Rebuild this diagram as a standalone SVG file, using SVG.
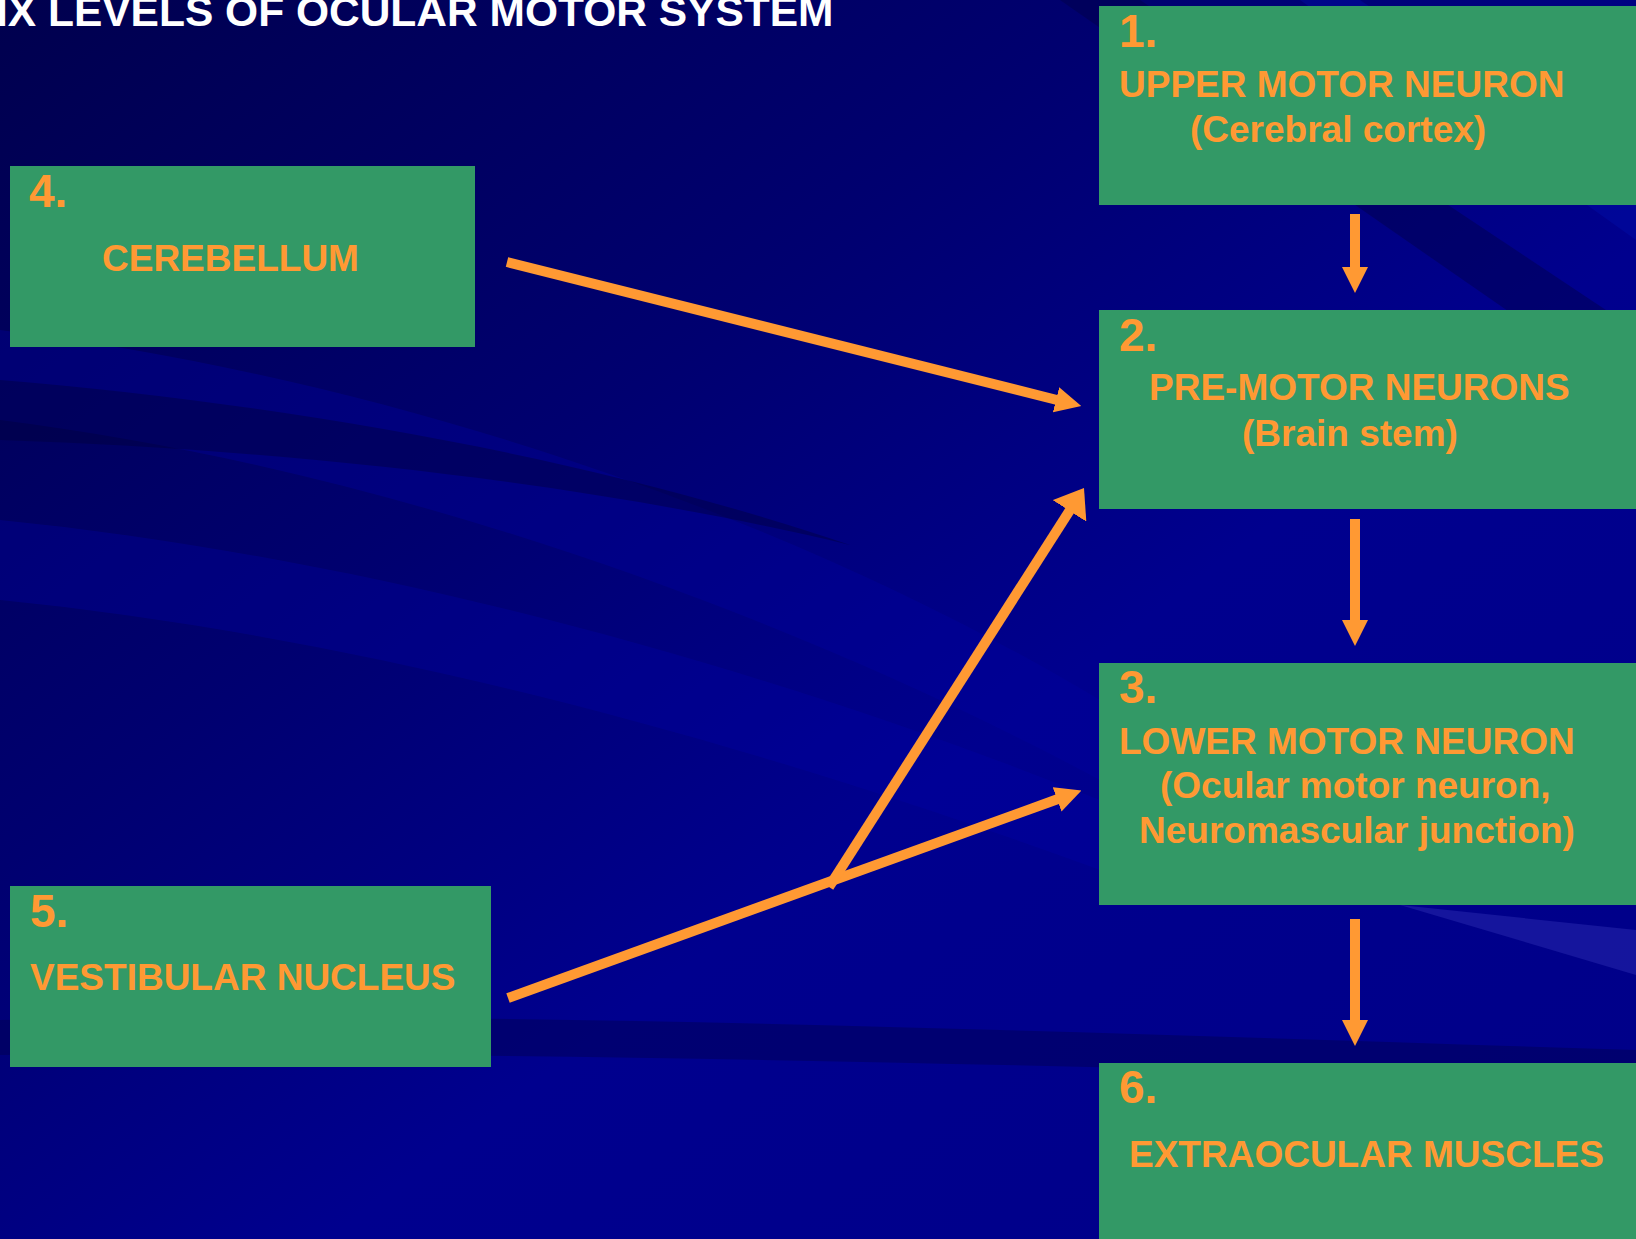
<svg xmlns="http://www.w3.org/2000/svg" width="1636" height="1239" viewBox="0 0 1636 1239">
  <defs>
    <linearGradient id="bg" x1="0" y1="0" x2="1" y2="1">
      <stop offset="0" stop-color="#00004e"/>
      <stop offset="0.35" stop-color="#000070"/>
      <stop offset="0.6" stop-color="#00008e"/>
      <stop offset="1" stop-color="#000088"/>
    </linearGradient>
    <marker id="head" viewBox="0 0 26 26" refX="1" refY="13" markerWidth="26" markerHeight="26" markerUnits="userSpaceOnUse" orient="auto">
      <path d="M0,0 L26,13 L0,26 Z" fill="#FF9933"/>
    </marker>
    <marker id="headWide" viewBox="0 0 27 40" refX="1" refY="20" markerWidth="27" markerHeight="40" markerUnits="userSpaceOnUse" orient="auto">
      <path d="M0,0 L27,20 L0,40 Z" fill="#FF9933"/>
    </marker>
    <style>
      .box { fill: #339966; }
      .num { font-family: "Liberation Sans", Arial, sans-serif; font-weight: bold; font-size: 46px; fill: #FF9933; }
      .lbl { font-family: "Liberation Sans", Arial, sans-serif; font-weight: bold; font-size: 37px; fill: #FF9933; }
      .title { font-family: "Liberation Sans", Arial, sans-serif; font-weight: bold; font-size: 42.5px; fill: #FFFFFF; }
      .conn { stroke: #FF9933; stroke-width: 10; fill: none; }
    </style>
  </defs>

  <!-- background -->
  <g id="background">
    <rect x="0" y="0" width="1636" height="1239" fill="url(#bg)"/>
    <path d="M0,330 C400,380 800,520 1100,700 L1100,780 C800,620 400,470 0,420 Z" fill="#0000a0" opacity="0.35"/>
    <path d="M0,520 C400,560 800,680 1100,800 L1100,870 C800,760 400,640 0,600 Z" fill="#0000a8" opacity="0.3"/>
    <path d="M0,380 C300,405 600,460 850,545 C600,485 300,450 0,440 Z" fill="#00003a" opacity="0.4"/>
    <path d="M1060,0 L1140,0 L1636,330 L1636,400 Z" fill="#000040" opacity="0.4"/>
    <path d="M1300,0 L1360,0 L1636,190 L1636,240 Z" fill="#0010b0" opacity="0.35"/>
    <path d="M1400,905 L1636,930 L1636,975 Z" fill="#2a2ab0" opacity="0.5"/>
    <path d="M0,1020 C500,1010 1000,1030 1636,1050 L1636,1080 C1000,1065 500,1050 0,1055 Z" fill="#000050" opacity="0.45"/>
  </g>

  <text class="title" x="-4" y="26">IX LEVELS OF OCULAR MOTOR SYSTEM</text>

  <g id="node1">
    <rect class="box" x="1099" y="6" width="537" height="199"/>
    <text class="num" x="1119" y="47">1.</text>
    <text class="lbl" x="1119" y="97">UPPER MOTOR NEURON</text>
    <text class="lbl" x="1190" y="142">(Cerebral cortex)</text>
  </g>

  <g id="node2">
    <rect class="box" x="1099" y="310" width="537" height="199"/>
    <text class="num" x="1119" y="351">2.</text>
    <text class="lbl" x="1149" y="400">PRE-MOTOR NEURONS</text>
    <text class="lbl" x="1242" y="446">(Brain stem)</text>
  </g>

  <g id="node3">
    <rect class="box" x="1099" y="663" width="537" height="242"/>
    <text class="num" x="1119" y="703">3.</text>
    <text class="lbl" x="1119" y="754">LOWER MOTOR NEURON</text>
    <text class="lbl" x="1160" y="798">(Ocular motor neuron,</text>
    <text class="lbl" x="1139" y="843">Neuromascular junction)</text>
  </g>

  <g id="node6">
    <rect class="box" x="1099" y="1063" width="537" height="176"/>
    <text class="num" x="1119" y="1103">6.</text>
    <text class="lbl" x="1129" y="1167">EXTRAOCULAR MUSCLES</text>
  </g>

  <g id="node4">
    <rect class="box" x="10" y="166" width="465" height="181"/>
    <text class="num" x="29" y="207">4.</text>
    <text class="lbl" x="102" y="271">CEREBELLUM</text>
  </g>

  <g id="node5">
    <rect class="box" x="10" y="886" width="481" height="181"/>
    <text class="num" x="30" y="927">5.</text>
    <text class="lbl" x="30" y="990">VESTIBULAR NUCLEUS</text>
  </g>

  <g id="connectors">
    <line class="conn" x1="1355" y1="214" x2="1355" y2="268" stroke-width="9" marker-end="url(#head)"/>
    <line class="conn" x1="1355" y1="519" x2="1355" y2="621" stroke-width="9" marker-end="url(#head)"/>
    <line class="conn" x1="1355" y1="919" x2="1355" y2="1021" stroke-width="9" marker-end="url(#head)"/>
    <line class="conn" x1="507" y1="262" x2="1057" y2="400" marker-end="url(#head)"/>
    <line class="conn" x1="508" y1="998" x2="1058" y2="799" marker-end="url(#head)"/>
    <line class="conn" x1="829" y1="887" x2="1070" y2="510" stroke-width="9" marker-end="url(#headWide)"/>
  </g>
</svg>
